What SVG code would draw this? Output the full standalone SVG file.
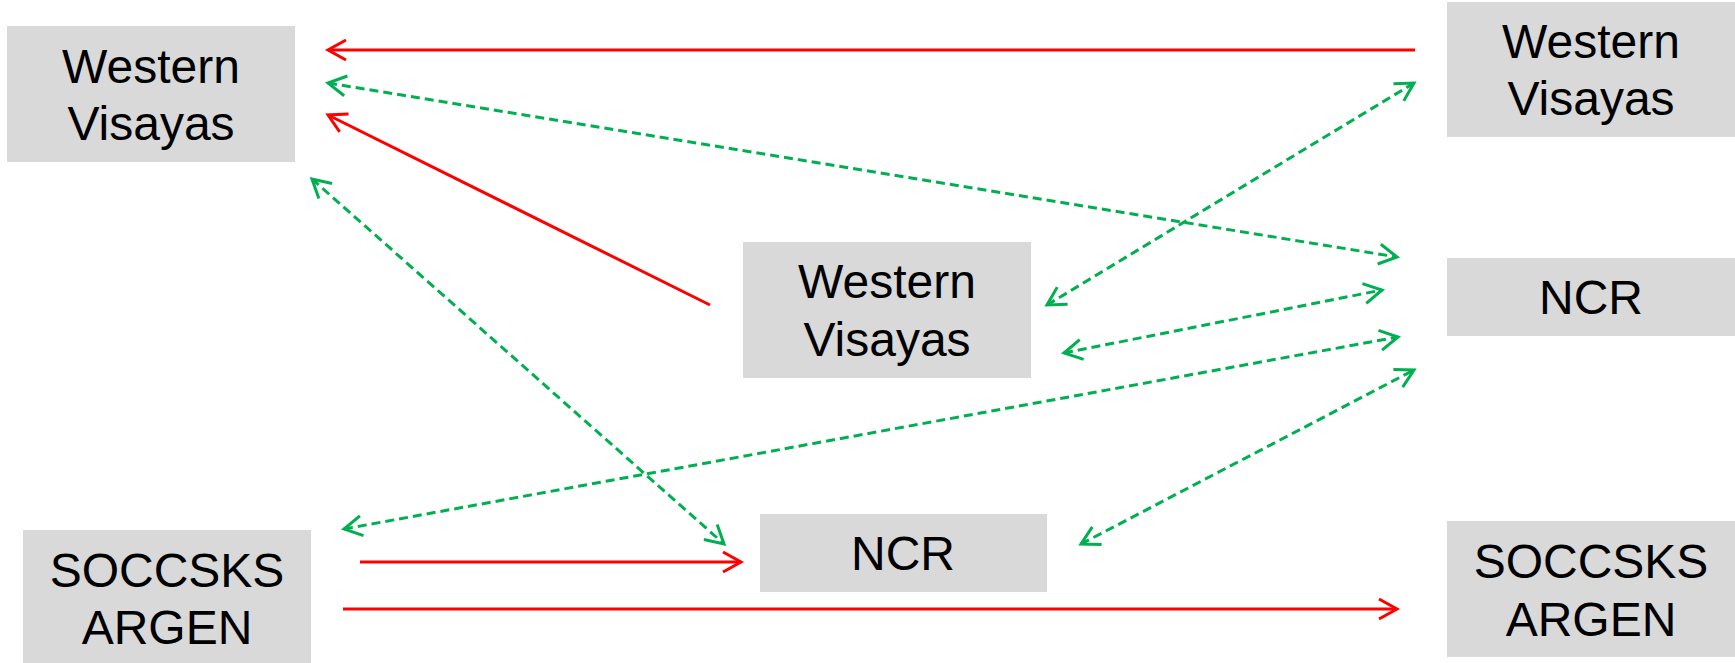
<svg xmlns="http://www.w3.org/2000/svg" width="1735" height="663" viewBox="0 0 1735 663">
<style>
.box{fill:#d9d9d9}
.lbl{font-family:"Liberation Sans",Arial,sans-serif;font-size:48px;fill:#000;text-anchor:middle}
.red{stroke:#ff0000;stroke-width:3;fill:none}
.green{stroke:#00b050;stroke-width:3;fill:none;stroke-dasharray:9 5}
</style>
<defs>
<marker id="ra" markerUnits="userSpaceOnUse" markerWidth="24" markerHeight="24" refX="18" refY="10" orient="auto-start-reverse" overflow="visible">
<path d="M0,0 L18,10 L0,20" fill="none" stroke="#ff0000" stroke-width="3"/>
</marker>
<marker id="ga" markerUnits="userSpaceOnUse" markerWidth="24" markerHeight="24" refX="18" refY="10" orient="auto-start-reverse" overflow="visible">
<path d="M0,0 L18,10 L0,20" fill="none" stroke="#00b050" stroke-width="3"/>
</marker>
</defs>
<g id="connectors">
<path class="red" d="M1415,50 L328,50" marker-end="url(#ra)"/>
<path class="red" d="M710,305 L328,115" marker-end="url(#ra)"/>
<path class="red" d="M360,562 L741,562" marker-end="url(#ra)"/>
<path class="red" d="M343,609 L1397,609" marker-end="url(#ra)"/>
<path class="green" d="M328,83 L1397,257" marker-start="url(#ga)" marker-end="url(#ga)"/>
<path class="green" d="M312,179 L724,544" marker-start="url(#ga)" marker-end="url(#ga)"/>
<path class="green" d="M1047,305 L1414,83" marker-start="url(#ga)" marker-end="url(#ga)"/>
<path class="green" d="M1064,353 L1382,290" marker-start="url(#ga)" marker-end="url(#ga)"/>
<path class="green" d="M344,529 L1398,337" marker-start="url(#ga)" marker-end="url(#ga)"/>
<path class="green" d="M1081,544 L1414,370" marker-start="url(#ga)" marker-end="url(#ga)"/>
</g>
<g id="node-wv-left">
<rect class="box" x="7" y="26" width="288" height="136"/>
<text class="lbl" x="151" y="83">Western</text>
<text class="lbl" x="151" y="140">Visayas</text>
</g>
<g id="node-wv-right">
<rect class="box" x="1447" y="2" width="288" height="135"/>
<text class="lbl" x="1591" y="58">Western</text>
<text class="lbl" x="1591" y="115">Visayas</text>
</g>
<g id="node-wv-mid">
<rect class="box" x="743" y="242" width="288" height="136"/>
<text class="lbl" x="887" y="298">Western</text>
<text class="lbl" x="887" y="356">Visayas</text>
</g>
<g id="node-ncr-right">
<rect class="box" x="1447" y="258" width="288" height="78"/>
<text class="lbl" x="1591" y="314">NCR</text>
</g>
<g id="node-soc-left">
<rect class="box" x="23" y="530" width="288" height="133"/>
<text class="lbl" x="167" y="587">SOCCSKS</text>
<text class="lbl" x="167" y="644">ARGEN</text>
</g>
<g id="node-ncr-mid">
<rect class="box" x="760" y="514" width="287" height="78"/>
<text class="lbl" x="903" y="570">NCR</text>
</g>
<g id="node-soc-right">
<rect class="box" x="1447" y="521" width="288" height="136"/>
<text class="lbl" x="1591" y="578">SOCCSKS</text>
<text class="lbl" x="1591" y="636">ARGEN</text>
</g>
</svg>
